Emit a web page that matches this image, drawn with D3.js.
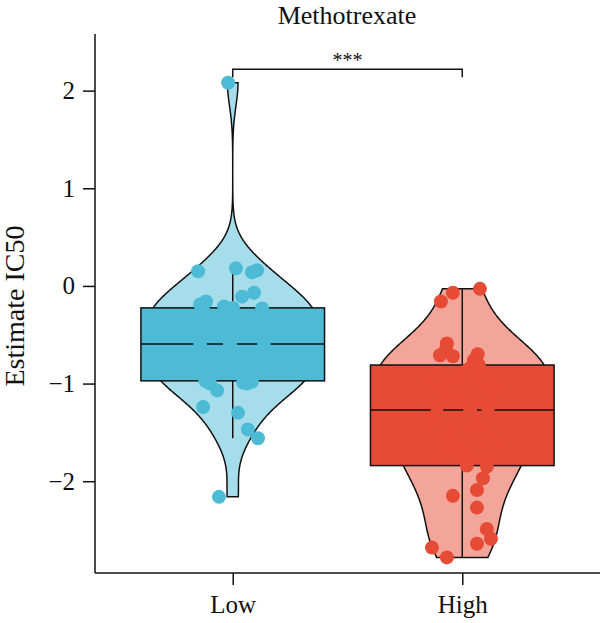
<!DOCTYPE html>
<html lang="en">
<head>
  <meta charset="UTF-8">
  <title>Methotrexate</title>
  <style>
    body { margin:0; background:#fff; }
    svg { display:block; }
    text { font-family: "Liberation Serif", "Times New Roman", serif; fill:#111; }
  </style>
</head>
<body>
  <svg id="chart" width="600" height="623"></svg>
  <script src="https://d3js.org/d3.v7.min.js"></script>
  <script>
    // data (IC50 estimates), jitter is a fraction of the group step
    const groups = ['Low', 'High'];
    const lowValues = [2.08, 0.18, 0.16, 0.15, 0.14, -0.07, -0.11, -0.16, -0.19, -0.21,
      -0.225, -0.23, -0.26, -0.29, -0.33, -0.37, -0.41, -0.45, -0.49, -0.58,
      -0.594, -0.61, -0.64, -0.67, -0.71, -0.74, -0.77, -0.81, -0.86, -0.93,
      -0.972, -0.98, -0.99, -1.00, -1.00, -1.07, -1.24, -1.30, -1.47, -1.56, -2.16];
    const lowJitter = [-0.020, 0.014, 0.106, -0.151, 0.084, 0.093, 0.041, -0.116, -0.142, -0.038,
      0.001, 0.128, 0.001, -0.116, -0.06, 0.07, -0.10, 0.02, 0.11, 0.136,
      -0.012, -0.142, -0.012, 0.136, -0.09, 0.12, -0.03, 0.08, -0.12, 0.053,
      -0.12, 0.084, 0.045, -0.099, 0.063, -0.068, -0.129, 0.023, 0.066, 0.110, -0.060];

    const highValues = [-0.03, -0.07, -0.16, -0.59, -0.65, -0.70, -0.71, -0.72, -0.76, -0.79,
      -0.81, -0.84, -0.87, -0.93, -0.98, -1.03, -1.08, -1.13, -1.18, -1.25,
      -1.27, -1.30, -1.37, -1.43, -1.49, -1.55, -1.61, -1.67, -1.73, -1.80,
      -1.84, -1.85, -1.97, -2.09, -2.15, -2.27, -2.49, -2.59, -2.64, -2.68, -2.78];
    const highJitter = [0.077, -0.041, -0.093, -0.067, -0.071, 0.067, -0.097, -0.041, 0.051, 0.064,
      0.072, 0.034, 0.016, -0.12, 0.10, -0.05, 0.13, -0.10, 0.02, 0.112,
      0.034, -0.110, 0.09, -0.13, 0.05, -0.06, 0.12, -0.02, -0.11, 0.020,
      0.020, 0.107, 0.090, 0.064, -0.041, 0.064, 0.107, 0.125, 0.064, -0.132, -0.067];

    const yTicks = [-2, -1, 0, 1, 2];
    const title = 'Methotrexate';
    const yLabel = 'Estimate IC50';
    const signif = '***';

    const fills = { Low: '#4DBBD5', High: '#E64B35' };
    const lightFills = { Low: '#A6DDEA', High: '#F3A59A' };

    const svg = d3.select('#chart');
    const x = d3.scalePoint().domain(groups).range([95, 600]).padding(0.6);
    const step = x.step();
    const y = d3.scaleLinear().domain([-2.94, 2.58]).range([573, 34]);

    const series = {
      Low: lowValues.map((v, i) => ({ v, j: lowJitter[i] })),
      High: highValues.map((v, i) => ({ v, j: highJitter[i] }))
    };

    // kernel density like R's density() with bw.nrd0, trimmed to data range
    function kde(vals) {
      const s = vals.slice().sort(d3.ascending);
      const n = s.length;
      const iqr = d3.quantile(s, 0.75) - d3.quantile(s, 0.25);
      const bw = 0.9 * Math.min(d3.deviation(s), iqr / 1.34) * Math.pow(n, -0.2);
      const lo = s[0], hi = s[n - 1];
      return d3.range(512).map(k => {
        const t = lo + (hi - lo) * k / 511;
        const d = d3.sum(s, xi => Math.exp(-0.5 * ((t - xi) / bw) ** 2)) / (n * bw * Math.sqrt(2 * Math.PI));
        return { t, d };
      });
    }

    const plot = svg.append('g');

    groups.forEach(g => {
      const cx = x(g);
      const vals = series[g].map(d => d.v).sort(d3.ascending);
      const q1 = d3.quantile(vals, 0.25), med = d3.quantile(vals, 0.5), q3 = d3.quantile(vals, 0.75);
      const iqr = q3 - q1;
      const upper = d3.max(vals.filter(v => v <= q3 + 1.5 * iqr));
      const lower = d3.min(vals.filter(v => v >= q1 - 1.5 * iqr));

      // each violin scaled to the same max width
      const dens = kde(vals);
      const w = d3.scaleLinear().domain([0, d3.max(dens, d => d.d)]).range([0, step * 0.38]);
      const area = d3.area()
        .y(d => y(d.t))
        .x0(d => cx - w(d.d))
        .x1(d => cx + w(d.d));
      plot.append('path')
        .attr('d', area(dens))
        .attr('fill', lightFills[g])
        .attr('stroke', '#111')
        .attr('stroke-width', 1.5);

      // whiskers
      plot.append('line').attr('x1', cx).attr('x2', cx).attr('y1', y(q3)).attr('y2', y(upper))
        .attr('stroke', '#111').attr('stroke-width', 1.5);
      plot.append('line').attr('x1', cx).attr('x2', cx).attr('y1', y(q1)).attr('y2', y(lower))
        .attr('stroke', '#111').attr('stroke-width', 1.5);

      const bw = step * 0.4;
      plot.append('rect')
        .attr('x', cx - bw).attr('width', bw * 2)
        .attr('y', y(q3)).attr('height', y(q1) - y(q3))
        .attr('fill', fills[g])
        .attr('stroke', '#111')
        .attr('stroke-width', 1.5);
      plot.append('line').attr('x1', cx - bw).attr('x2', cx + bw).attr('y1', y(med)).attr('y2', y(med))
        .attr('stroke', '#111').attr('stroke-width', 1.5);
    });

    groups.forEach(g => {
      plot.append('g').selectAll('circle').data(series[g]).join('circle')
        .attr('cx', d => x(g) + d.j * step)
        .attr('cy', d => y(d.v))
        .attr('r', 7)
        .attr('fill', fills[g]);
    });

    // axes
    const yAxis = svg.append('g').attr('transform', 'translate(95,0)')
      .call(d3.axisLeft(y).tickValues(yTicks).tickSize(12).tickPadding(8).tickFormat(d3.format('')));
    yAxis.select('.domain').attr('d', `M0,${y.range()[1]}V${y.range()[0]}`);
    const xAxis = svg.append('g').attr('transform', 'translate(0,573)')
      .call(d3.axisBottom(x).tickSize(12).tickPadding(10));
    xAxis.select('.domain').attr('d', 'M95,0H600');
    svg.selectAll('.domain, .tick line').attr('stroke', '#111').attr('stroke-width', 1.5);
    svg.selectAll('.tick text').attr('fill', '#111').style('font-family', '"Liberation Serif", serif')
      .style('font-size', '25px');

    // significance bracket
    const by = y(2.22), tip = 8;
    svg.append('path')
      .attr('d', `M${x('Low')},${by + tip}V${by}H${x('High')}V${by + tip}`)
      .attr('fill', 'none').attr('stroke', '#111').attr('stroke-width', 1.5);
    svg.append('text')
      .attr('x', (x('Low') + x('High')) / 2).attr('y', by - 2)
      .attr('text-anchor', 'middle').style('font-size', '20px').text(signif);

    svg.append('text')
      .attr('x', 347).attr('y', 24)
      .attr('text-anchor', 'middle').style('font-size', '26px').text(title);

    svg.append('text')
      .attr('transform', `translate(24,306) rotate(-90)`)
      .attr('text-anchor', 'middle').style('font-size', '28px').text(yLabel);
  </script>
</body>
</html>
